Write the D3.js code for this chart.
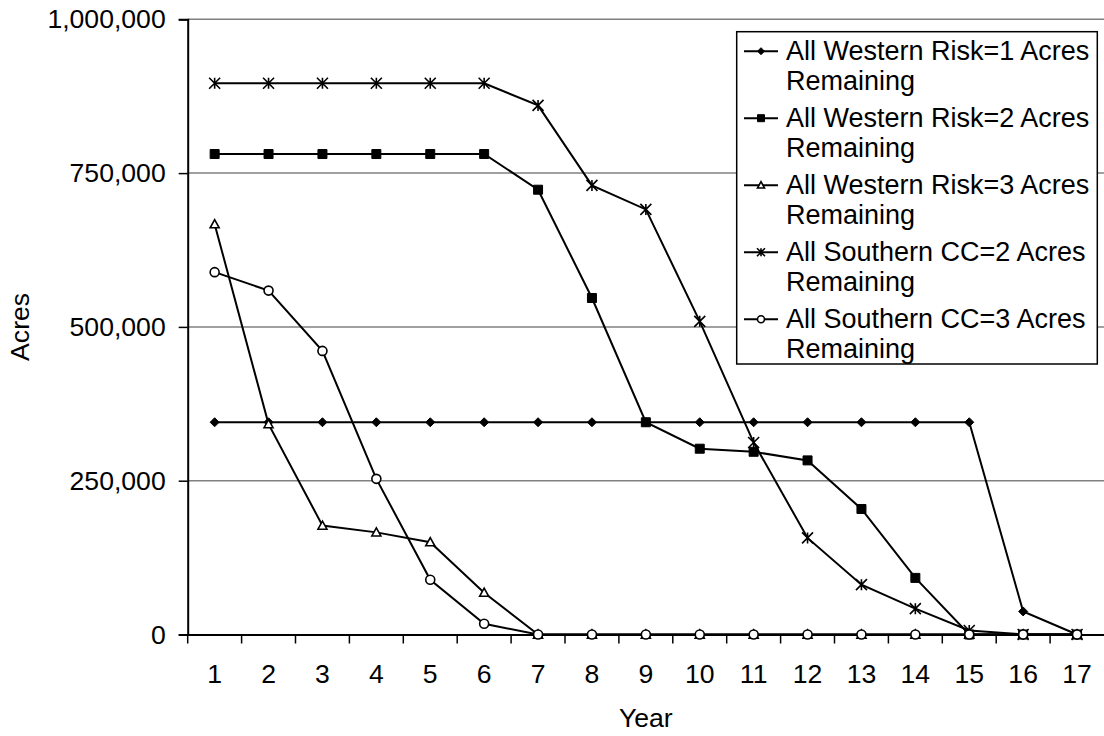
<!DOCTYPE html>
<html>
<head>
<meta charset="utf-8">
<script src="https://cdn.jsdelivr.net/npm/d3@7"></script>
<style>
  html, body { margin: 0; padding: 0; background: #fff; }
  svg { display: block; font-family: "Liberation Sans", Arial, sans-serif; }
</style>
</head>
<body>
<svg id="chart" width="1104" height="736"></svg>
<script>
const years = [1,2,3,4,5,6,7,8,9,10,11,12,13,14,15,16,17];
const yTicks = [0, 250000, 500000, 750000, 1000000];
const seriesNames = [
  ["All Western Risk=1 Acres", "Remaining"],
  ["All Western Risk=2 Acres", "Remaining"],
  ["All Western Risk=3 Acres", "Remaining"],
  ["All Southern CC=2 Acres", "Remaining"],
  ["All Southern CC=3 Acres", "Remaining"]
];
const westernRisk1 = [345000,345000,345000,345000,345000,345000,345000,345000,345000,345000,345000,345000,345000,345000,345000,37500,0];
const westernRisk2 = [781000,781000,781000,781000,781000,781000,723000,547000,345000,302000,297000,283000,204000,92000,0,0,0];
const westernRisk3 = [667000,342000,177000,166000,150000,68000,0,0,0,0,0,0,0,0,0,0,0];
const southernCC2 = [896000,896000,896000,896000,896000,896000,860000,730000,691000,509000,312000,157000,81000,42000,6500,0,0];
const southernCC3 = [589000,559000,461000,253000,89000,17500,0,0,0,0,0,0,0,0,0,0,0];
const markerTypes = ["diamond","square","triangle","star","circle"];

const seriesValues = [westernRisk1, westernRisk2, westernRisk3, southernCC2, southernCC3];

const svg = d3.select("#chart");
const plot = {left: 187.7, right: 1104, top: 19.3, bottom: 634.5};
const FS = 26.6;

const x = d3.scaleBand().domain(years).range([plot.left, plot.right]).padding(0);
const y = d3.scaleLinear().domain([0, 1000000]).range([plot.bottom, plot.top]);
const cx = d => x(d) + x.bandwidth() / 2;

// gridlines
svg.append("g").selectAll("line")
  .data(yTicks.filter(t => t > 0))
  .join("line")
  .attr("x1", plot.left).attr("x2", plot.right)
  .attr("y1", d => y(d)).attr("y2", d => y(d))
  .attr("stroke", "#808080").attr("stroke-width", 1.5);

// y axis
const yAxis = d3.axisLeft(y).tickValues(yTicks).tickSize(9).tickPadding(13)
  .tickFormat(d3.format(","));
const gy = svg.append("g").attr("transform", `translate(${plot.left},0)`).call(yAxis);
gy.select(".domain").attr("stroke", "#000").attr("stroke-width", 2);
gy.selectAll(".tick line").attr("stroke", "#000").attr("stroke-width", 1.5);
gy.selectAll(".tick text").attr("font-size", FS).attr("fill", "#000")
  .attr("font-family", "Liberation Sans, Arial, sans-serif");

// x axis
const xAxis = d3.axisBottom(x).tickSize(0).tickPadding(30);
const gx = svg.append("g").attr("transform", `translate(0,${plot.bottom})`).call(xAxis);
gx.select(".domain").attr("stroke", "#000").attr("stroke-width", 2);
gx.selectAll(".tick text").attr("font-size", FS).attr("fill", "#000")
  .attr("font-family", "Liberation Sans, Arial, sans-serif");
// category boundary ticks
svg.append("g").selectAll("line")
  .data(years)
  .join("line")
  .attr("x1", d => x(d)).attr("x2", d => x(d))
  .attr("y1", plot.bottom).attr("y2", plot.bottom + 9)
  .attr("stroke", "#000").attr("stroke-width", 1.5);

// axis titles
svg.append("text").attr("x", (plot.left + plot.right) / 2).attr("y", 727)
  .attr("text-anchor", "middle").attr("font-size", FS).text("Year");
svg.append("text").attr("transform", `translate(29,${(plot.top + plot.bottom) / 2}) rotate(-90)`)
  .attr("text-anchor", "middle").attr("font-size", FS).text("Acres");

function markerPath(type, s) {
  const h = s / 2;
  switch (type) {
    case "diamond": return `M0,${-h}L${h},0L0,${h}L${-h},0Z`;
    case "square": return `M${-h},${-h}H${h}V${h}H${-h}Z`;
    case "triangle": return `M0,${-h}L${h},${h * 0.8}L${-h},${h * 0.8}Z`;
    case "star": return `M${-h},${-h}L${h},${h}M${-h},${h}L${h},${-h}M0,${-h}V${h}`;
    case "circle": return `M${h},0A${h},${h} 0 1,1 ${-h},0A${h},${h} 0 1,1 ${h},0Z`;
  }
}
function styleMarker(sel, type) {
  if (type === "diamond" || type === "square") {
    sel.attr("fill", "#000").attr("stroke", "#000").attr("stroke-width", 1);
  } else {
    sel.attr("fill", type === "star" ? "none" : "#fff").attr("stroke", "#000").attr("stroke-width", 1.6);
  }
}

const line = d3.line().x((d, i) => cx(years[i])).y(d => y(d));

seriesValues.forEach((vals, si) => {
  const g = svg.append("g");
  g.append("path").attr("d", line(vals)).attr("fill", "none")
    .attr("stroke", "#000").attr("stroke-width", 2);
  const type = markerTypes[si];
  const size = type === "star" ? 11 : 9;
  g.selectAll("path.m").data(vals).join("path").attr("class", "m")
    .attr("transform", (d, i) => `translate(${cx(years[i])},${y(d)})`)
    .attr("d", markerPath(type, size))
    .call(styleMarker, type);
});

// legend
const legend = svg.append("g");
legend.append("rect").attr("x", 736.7).attr("y", 31.7).attr("width", 360.6).attr("height", 332.3)
  .attr("fill", "#fff").attr("stroke", "#000").attr("stroke-width", 1.5);
seriesNames.forEach((lines, i) => {
  const base = 59.5 + i * 67;
  const ly = base - 8.3;
  legend.append("line").attr("x1", 744).attr("x2", 778).attr("y1", ly).attr("y2", ly)
    .attr("stroke", "#000").attr("stroke-width", 2);
  const type = markerTypes[i];
  legend.append("path").attr("transform", `translate(761,${ly})`)
    .attr("d", markerPath(type, type === "star" ? 8 : 7)).call(styleMarker, type);
  const t = legend.append("text").attr("x", 786).attr("y", base).attr("font-size", 27);
  lines.forEach((ln, k) => {
    t.append("tspan").attr("x", 786).attr("y", base + k * 30.5).text(ln);
  });
});
</script>
</body>
</html>
